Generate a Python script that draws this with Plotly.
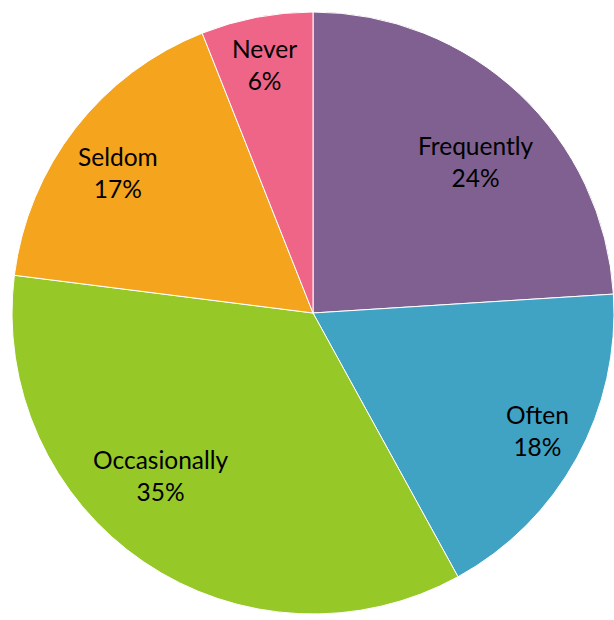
import math
import plotly.graph_objects as go

labels = ["Frequently", "Often", "Occasionally", "Seldom", "Never"]
values = [24, 18, 35, 17, 6]
colors = ["#7F6090", "#41A3C4", "#96C828", "#F4A41D", "#EF6588"]
# label placement styling: distance from centre (fraction of radius) and angular nudge (deg)
label_radius = [0.74, 0.84, 0.74, 0.80, 0.84]
label_shift = [4.0, -1.2, 9.0, -2.0, -0.3]

W, H = 614, 620
x0, x1 = 12, 614          # pie domain in px (left, right)
y0, y1 = 12, 614          # pie domain in px (top, bottom)

fig = go.Figure(go.Pie(
    labels=labels,
    values=values,
    sort=False,
    direction="clockwise",
    rotation=0,
    marker=dict(colors=colors, line=dict(color="white", width=1)),
    textinfo="none",
    showlegend=False,
    hoverinfo="label+percent",
    domain=dict(x=[x0 / W, x1 / W], y=[1 - y1 / H, 1 - y0 / H]),
))

cx, cy = (x0 + x1) / 2, (y0 + y1) / 2
R = min(x1 - x0, y1 - y0) / 2
total = sum(values)
cum = 0
for lab, v, rf, sh in zip(labels, values, label_radius, label_shift):
    mid = (cum + v / 2) / total * 2 * math.pi + math.radians(sh)
    cum += v
    px = cx + rf * R * math.sin(mid)
    py = cy - rf * R * math.cos(mid)
    fig.add_annotation(
        x=px / W, y=1 - py / H, xref="paper", yref="paper",
        text=f"{lab}<br>{round(v / total * 100)}%",
        showarrow=False, xanchor="center", yanchor="middle",
        font=dict(family="Lato", size=24.5, color="black"),
    )

fig.update_layout(
    width=W, height=H,
    margin=dict(l=0, r=0, t=0, b=0),
    paper_bgcolor="white",
)
fig.write_html(
    "out.html",
    config={"displayModeBar": False},
    post_script="document.body.style.margin='0';document.body.style.overflow='hidden';",
)
